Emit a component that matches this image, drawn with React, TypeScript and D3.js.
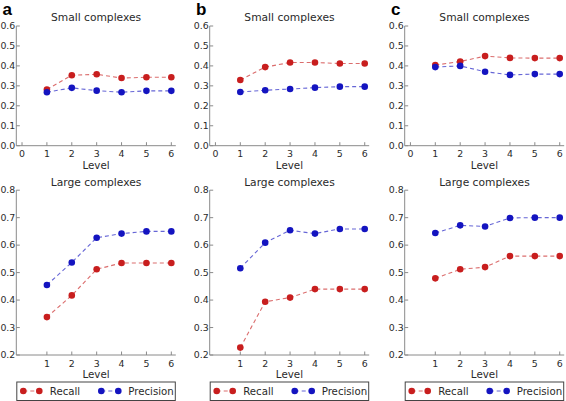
import React from "react";
import * as d3 from "d3";

const levelsTop = [1, 2, 3, 4, 5, 6];
const levelsBottom = [1, 2, 3, 4, 5, 6];
const panelLetters = ["a", "b", "c"];
const topTitle = "Small complexes";
const bottomTitle = "Large complexes";
const xTicksTop = [0, 1, 2, 3, 4, 5, 6];
const xTicksBottom = [1, 2, 3, 4, 5, 6];
const yTicksTop = [0.0, 0.1, 0.2, 0.3, 0.4, 0.5, 0.6];
const yTicksBottom = [0.2, 0.3, 0.4, 0.5, 0.6, 0.7, 0.8];
const seriesNames = ["Recall", "Precision"];

// Small complexes
const smallRecall = [
  [0.282, 0.353, 0.358, 0.339, 0.343, 0.343],
  [0.329, 0.394, 0.417, 0.417, 0.412, 0.412],
  [0.404, 0.422, 0.449, 0.44, 0.439, 0.439],
];
const smallPrecision = [
  [0.268, 0.29, 0.276, 0.268, 0.275, 0.275],
  [0.269, 0.278, 0.284, 0.291, 0.296, 0.296],
  [0.394, 0.4, 0.371, 0.355, 0.359, 0.359],
];
// Large complexes
const largeRecall = [
  [0.338, 0.417, 0.512, 0.535, 0.535, 0.535],
  [0.227, 0.394, 0.409, 0.44, 0.44, 0.44],
  [0.479, 0.512, 0.52, 0.56, 0.56, 0.56],
];
const largePrecision = [
  [0.455, 0.537, 0.627, 0.642, 0.65, 0.65],
  [0.516, 0.609, 0.654, 0.642, 0.659, 0.659],
  [0.644, 0.672, 0.668, 0.699, 0.7, 0.7],
];

const RED = "#c81e1e";
const BLUE = "#1414c0";
const FONT = "DejaVu Sans, sans-serif";
const SPINE = "#8a8a8a";
const TEXTC = "#2a2a2a";

const panelOffsets = [0, 193.4, 388.4];

function Series({ xs, ys, x, y, color }: any) {
  const line = d3
    .line<number>()
    .x((_, i) => x(xs[i]))
    .y((v) => y(v));
  return (
    <g>
      <path d={line(ys) || ""} fill="none" stroke={color} strokeOpacity={0.65} strokeWidth={1.1} strokeDasharray="4,3" />
      {ys.map((v: number, i: number) => (
        <circle key={i} cx={x(xs[i])} cy={y(v)} r={3.3} fill={color} />
      ))}
    </g>
  );
}

function Panel({ idx }: { idx: number }) {
  const off = panelOffsets[idx];
  const x = d3.scaleLinear().domain([-0.23, 6.18]).range([16.3 + off, 175.8 + off]);
  const yTop = d3.scaleLinear().domain([0, 0.6]).range([145.7, 26]);
  const yBot = d3.scaleLinear().domain([0.2, 0.8]).range([355, 190.2]);
  const [x0, x1] = x.range();
  const cx = (x0 + x1) / 2;
  const fmt = d3.format(".1f");
  return (
    <g fontFamily={FONT}>
      <text x={2.5 + off} y={14.5} fontSize={17} fontWeight="bold" fontFamily="Liberation Sans, Arial, sans-serif" fill="#000">
        {panelLetters[idx]}
      </text>
      {/* top */}
      <text x={cx} y={21} fontSize={10.7} textAnchor="middle" fill={TEXTC}>{topTitle}</text>
      <line x1={x0} x2={x0} y1={yTop(0.6)} y2={yTop(0)} stroke={SPINE} />
      <line x1={x0} x2={x1} y1={yTop(0)} y2={yTop(0)} stroke={SPINE} />
      {yTicksTop.map((t) => (
        <g key={t}>
          <line x1={x0} x2={x0 + 3.5} y1={yTop(t)} y2={yTop(t)} stroke={SPINE} />
          <text x={x0 - 1} y={yTop(t)} dy="0.35em" fontSize={9.4} textAnchor="end" fill={TEXTC}>{fmt(t)}</text>
        </g>
      ))}
      {xTicksTop.map((t) => (
        <g key={t}>
          <line x1={x(t)} x2={x(t)} y1={yTop(0)} y2={yTop(0) - 3.5} stroke={SPINE} />
          <text x={x(t)} y={157} fontSize={9.4} textAnchor="middle" fill={TEXTC}>{t}</text>
        </g>
      ))}
      <text x={cx} y={168.5} fontSize={10.3} textAnchor="middle" fill={TEXTC}>Level</text>
      <Series xs={levelsTop} ys={smallRecall[idx]} x={x} y={yTop} color={RED} />
      <Series xs={levelsTop} ys={smallPrecision[idx]} x={x} y={yTop} color={BLUE} />

      {/* bottom */}
      <text x={cx} y={186} fontSize={10.7} textAnchor="middle" fill={TEXTC}>{bottomTitle}</text>
      <line x1={x0} x2={x0} y1={yBot(0.8)} y2={yBot(0.2)} stroke={SPINE} />
      <line x1={x0} x2={x1} y1={yBot(0.2)} y2={yBot(0.2)} stroke={SPINE} />
      {yTicksBottom.map((t) => (
        <g key={t}>
          <line x1={x0} x2={x0 + 3.5} y1={yBot(t)} y2={yBot(t)} stroke={SPINE} />
          <text x={x0 - 1} y={yBot(t)} dy="0.35em" fontSize={9.4} textAnchor="end" fill={TEXTC}>{fmt(t)}</text>
        </g>
      ))}
      {xTicksBottom.map((t) => (
        <g key={t}>
          <line x1={x(t)} x2={x(t)} y1={yBot(0.2)} y2={yBot(0.2) - 3.5} stroke={SPINE} />
          <text x={x(t)} y={367} fontSize={9.4} textAnchor="middle" fill={TEXTC}>{t}</text>
        </g>
      ))}
      <text x={cx} y={377.5} fontSize={10.3} textAnchor="middle" fill={TEXTC}>Level</text>
      <Series xs={levelsBottom} ys={largeRecall[idx]} x={x} y={yBot} color={RED} />
      <Series xs={levelsBottom} ys={largePrecision[idx]} x={x} y={yBot} color={BLUE} />

      {/* legend */}
      <rect x={x0 + 0.5} y={382} width={x1 - x0 - 1} height={18.5} fill="#fff" stroke="#444" strokeWidth={1} />
      {[
        { name: seriesNames[0], color: RED, m1: 7, m2: 23, t: 33.5 },
        { name: seriesNames[1], color: BLUE, m1: 85, m2: 102, t: 112 },
      ].map((s) => (
        <g key={s.name}>
          <line x1={x0 + s.m1} x2={x0 + s.m2} y1={391} y2={391} stroke={s.color} strokeOpacity={0.65} strokeWidth={1.1} strokeDasharray="4,3" />
          <circle cx={x0 + s.m1} cy={391} r={3.3} fill={s.color} />
          <circle cx={x0 + s.m2} cy={391} r={3.3} fill={s.color} />
          <text x={x0 + s.t} y={394.5} fontSize={10.2} fill={TEXTC}>{s.name}</text>
        </g>
      ))}
    </g>
  );
}

export default function App() {
  return (
    <svg width={566} height={401} style={{ position: "absolute", left: 0, top: 0, background: "#fff" }}>
      <rect width={566} height={401} fill="#fff" />
      {panelLetters.map((_, i) => (
        <Panel key={i} idx={i} />
      ))}
    </svg>
  );
}
